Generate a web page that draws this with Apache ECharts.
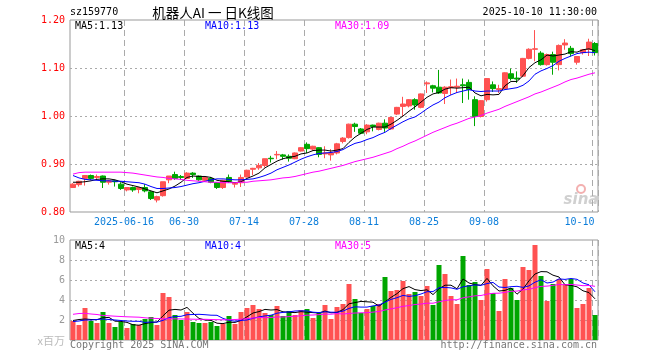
<!DOCTYPE html>
<html><head><meta charset="utf-8">
<script src="https://cdn.jsdelivr.net/npm/echarts@6.0.0/dist/echarts.min.js"></script>
<style>html,body{margin:0;padding:0;background:#fff}#c{width:660px;height:360px}</style>
</head><body><div id="c"></div>
<script>
const dates = [
'2025-06-03','2025-06-04','2025-06-05','2025-06-06','2025-06-09','2025-06-10','2025-06-11','2025-06-12','2025-06-13','2025-06-16',
'2025-06-17','2025-06-18','2025-06-19','2025-06-20','2025-06-23','2025-06-24','2025-06-25','2025-06-26','2025-06-27','2025-06-30',
'2025-07-01','2025-07-02','2025-07-03','2025-07-04','2025-07-07','2025-07-08','2025-07-09','2025-07-10','2025-07-11','2025-07-14',
'2025-07-15','2025-07-16','2025-07-17','2025-07-18','2025-07-21','2025-07-22','2025-07-23','2025-07-24','2025-07-25','2025-07-28',
'2025-07-29','2025-07-30','2025-07-31','2025-08-01','2025-08-04','2025-08-05','2025-08-06','2025-08-07','2025-08-08','2025-08-11',
'2025-08-12','2025-08-13','2025-08-14','2025-08-15','2025-08-18','2025-08-19','2025-08-20','2025-08-21','2025-08-22','2025-08-25',
'2025-08-26','2025-08-27','2025-08-28','2025-08-29','2025-09-01','2025-09-02','2025-09-03','2025-09-04','2025-09-05','2025-09-08',
'2025-09-09','2025-09-10','2025-09-11','2025-09-12','2025-09-15','2025-09-16','2025-09-17','2025-09-18','2025-09-19','2025-09-22',
'2025-09-23','2025-09-24','2025-09-25','2025-09-26','2025-09-29','2025-09-30','2025-10-09','2025-10-10'];

const openP = [
0.851,0.857,0.870,0.876,0.872,0.875,0.862,0.865,0.858,0.846,
0.851,0.847,0.851,0.842,0.825,0.834,0.867,0.878,0.874,0.870,
0.881,0.875,0.866,0.870,0.861,0.851,0.872,0.858,0.861,0.873,
0.889,0.892,0.897,0.912,0.919,0.919,0.916,0.911,0.927,0.941,
0.931,0.934,0.921,0.919,0.923,0.947,0.955,0.983,0.973,0.967,
0.981,0.972,0.985,0.973,1.004,1.020,1.021,1.034,1.018,1.067,
1.063,1.060,1.047,1.059,1.060,1.065,1.070,1.034,0.999,1.034,
1.065,1.055,1.057,1.088,1.079,1.083,1.120,1.139,1.131,1.107,
1.128,1.107,1.148,1.141,1.112,1.132,1.139,1.151];
const closeP = [
0.858,0.864,0.876,0.870,0.874,0.862,0.865,0.863,0.849,0.851,
0.846,0.851,0.844,0.828,0.832,0.863,0.875,0.870,0.872,0.881,
0.878,0.867,0.872,0.862,0.851,0.866,0.864,0.860,0.872,0.887,
0.891,0.897,0.911,0.911,0.920,0.916,0.912,0.923,0.934,0.932,
0.937,0.920,0.923,0.923,0.942,0.954,0.983,0.978,0.964,0.981,
0.978,0.985,0.975,0.997,1.018,1.025,1.034,1.023,1.046,1.069,
1.058,1.048,1.060,1.061,1.062,1.063,1.055,0.999,1.032,1.078,
1.057,1.057,1.090,1.078,1.077,1.120,1.139,1.140,1.107,1.128,
1.112,1.147,1.152,1.130,1.124,1.138,1.154,1.132];
const lowP = [
0.850,0.853,0.855,0.867,0.867,0.850,0.857,0.853,0.846,0.843,
0.842,0.839,0.841,0.825,0.820,0.832,0.860,0.867,0.867,0.870,
0.871,0.865,0.864,0.860,0.848,0.848,0.861,0.851,0.852,0.872,
0.877,0.888,0.893,0.903,0.910,0.909,0.905,0.910,0.926,0.923,
0.928,0.914,0.912,0.907,0.920,0.943,0.953,0.967,0.962,0.962,
0.968,0.970,0.967,0.971,1.002,1.000,1.018,1.013,1.016,1.048,
1.049,1.046,1.025,1.044,1.048,1.027,1.034,0.979,0.997,1.030,
1.050,1.048,1.055,1.074,1.069,1.081,1.118,1.114,1.105,1.105,
1.086,1.095,1.138,1.124,1.107,1.128,1.125,1.126];
const highP = [
0.860,0.865,0.877,0.878,0.878,0.876,0.867,0.867,0.862,0.851,
0.853,0.851,0.858,0.844,0.834,0.863,0.875,0.884,0.877,0.883,
0.883,0.876,0.873,0.873,0.862,0.867,0.878,0.862,0.878,0.888,
0.892,0.902,0.911,0.917,0.927,0.921,0.920,0.924,0.935,0.945,
0.938,0.935,0.937,0.931,0.944,0.956,0.984,0.986,0.975,0.983,
0.982,0.986,0.993,0.998,1.019,1.040,1.035,1.037,1.047,1.072,
1.065,1.096,1.062,1.076,1.078,1.078,1.076,1.041,1.033,1.079,
1.072,1.065,1.091,1.099,1.093,1.121,1.141,1.179,1.135,1.130,
1.134,1.149,1.160,1.146,1.125,1.139,1.161,1.154];
const volume = [
1.9,1.5,3.2,1.9,1.7,2.8,1.7,1.3,1.8,1.2,
1.6,1.5,2.1,2.3,1.5,4.7,4.3,2.5,2.0,2.8,
1.8,1.7,1.7,1.8,1.4,1.6,2.4,1.6,2.8,3.2,
3.5,3.1,2.7,2.5,3.4,2.4,2.9,2.5,3.0,3.1,
2.2,2.7,3.5,2.1,3.3,3.6,5.6,4.1,2.7,3.1,
3.4,3.6,6.3,4.9,5.0,5.9,4.6,4.8,4.4,5.4,
3.5,7.5,6.6,4.4,3.6,8.4,5.5,5.8,4.0,7.1,
4.7,2.9,6.1,5.2,4.0,7.3,7.0,9.5,6.4,3.9,
5.6,6.1,5.6,6.1,3.2,3.6,5.2,2.5];

const ma5 = [
0.862,0.862,0.863,0.865,0.868,0.869,0.869,0.867,0.863,0.858,
0.855,0.852,0.848,0.844,0.840,0.844,0.848,0.854,0.862,0.872,
0.875,0.874,0.874,0.872,0.866,0.864,0.863,0.861,0.863,0.870,
0.875,0.881,0.892,0.899,0.906,0.911,0.914,0.916,0.921,0.923,
0.928,0.929,0.929,0.927,0.929,0.932,0.945,0.956,0.964,0.972,
0.977,0.977,0.977,0.983,0.991,1.000,1.010,1.019,1.029,1.039,
1.046,1.049,1.056,1.059,1.058,1.059,1.060,1.048,1.042,1.045,
1.044,1.045,1.063,1.072,1.072,1.084,1.101,1.111,1.117,1.127,
1.125,1.127,1.129,1.134,1.133,1.138,1.140,1.136];
const ma10 = [
0.876,0.871,0.868,0.867,0.866,0.865,0.865,0.864,0.864,0.863,
0.862,0.861,0.858,0.853,0.849,0.849,0.850,0.851,0.853,0.856,
0.859,0.861,0.864,0.867,0.869,0.869,0.868,0.867,0.867,0.868,
0.869,0.872,0.876,0.881,0.888,0.893,0.898,0.904,0.910,0.915,
0.919,0.922,0.923,0.924,0.926,0.930,0.937,0.943,0.946,0.951,
0.955,0.961,0.966,0.974,0.981,0.988,0.994,0.998,1.006,1.015,
1.023,1.029,1.038,1.044,1.049,1.052,1.055,1.052,1.051,1.052,
1.052,1.052,1.055,1.057,1.059,1.064,1.073,1.087,1.094,1.099,
1.105,1.114,1.120,1.125,1.130,1.132,1.133,1.132];
const ma30 = [
0.879,0.882,0.883,0.883,0.883,0.883,0.883,0.883,0.883,0.882,
0.881,0.879,0.877,0.875,0.873,0.872,0.870,0.869,0.868,0.866,
0.865,0.864,0.863,0.862,0.862,0.861,0.861,0.861,0.862,0.862,
0.864,0.865,0.866,0.867,0.869,0.871,0.872,0.874,0.877,0.880,
0.883,0.885,0.888,0.891,0.894,0.897,0.901,0.905,0.908,0.911,
0.914,0.918,0.922,0.926,0.932,0.937,0.943,0.948,0.954,0.960,
0.966,0.971,0.976,0.981,0.985,0.990,0.995,0.998,1.001,1.006,
1.010,1.014,1.020,1.025,1.030,1.035,1.040,1.046,1.050,1.055,
1.060,1.065,1.071,1.076,1.079,1.083,1.087,1.090];
const vma5 = [
1.95,2.05,2.10,2.05,2.04,2.22,2.26,1.88,1.86,1.76,
1.52,1.48,1.64,1.74,1.80,2.42,2.98,3.06,3.00,3.26,
2.68,2.16,2.00,1.96,1.68,1.64,1.78,1.76,1.96,2.32,
2.70,2.84,3.06,3.00,3.04,2.82,2.78,2.74,2.84,2.78,
2.74,2.70,2.90,2.72,2.76,3.04,3.62,3.74,3.86,3.82,
3.78,3.38,3.82,4.26,4.64,5.14,5.34,5.04,4.94,5.02,
4.54,5.12,5.48,5.48,5.12,6.10,5.70,5.54,5.46,6.16,
5.42,4.90,4.96,5.20,4.58,5.10,5.92,6.60,6.84,6.82,
6.48,6.30,5.52,5.46,5.32,4.92,4.74,4.12];
const vma10 = [
1.85,1.90,2.00,2.00,2.05,2.10,2.05,2.00,1.95,1.90,
1.87,1.87,1.76,1.80,1.78,1.97,2.23,2.35,2.37,2.53,
2.55,2.57,2.53,2.48,2.47,2.16,1.97,1.88,1.96,2.00,
2.17,2.31,2.41,2.48,2.68,2.76,2.81,2.90,2.92,2.91,
2.78,2.74,2.82,2.78,2.77,2.89,3.16,3.32,3.29,3.29,
3.41,3.50,3.78,4.06,4.23,4.46,4.36,4.43,4.60,4.83,
4.84,5.23,5.26,5.21,5.07,5.32,5.41,5.51,5.47,5.64,
5.76,5.30,5.25,5.33,5.37,5.26,5.41,5.78,6.02,5.70,
5.79,6.11,6.06,6.15,6.07,5.70,5.52,4.82];
const vma30 = [
2.57,2.65,2.67,2.60,2.55,2.45,2.42,2.38,2.35,2.32,
2.30,2.28,2.22,2.18,2.15,2.12,2.12,2.12,2.10,2.10,
2.08,2.07,2.07,2.05,2.03,2.02,2.02,2.05,2.08,2.14,
2.20,2.25,2.23,2.25,2.31,2.30,2.34,2.38,2.42,2.48,
2.50,2.54,2.59,2.58,2.64,2.60,2.65,2.70,2.72,2.73,
2.79,2.85,3.00,3.11,3.23,3.37,3.44,3.55,3.60,3.68,
3.68,3.82,3.95,4.02,4.02,4.22,4.31,4.42,4.45,4.59,
4.67,4.68,4.76,4.87,4.89,5.01,5.06,5.24,5.36,5.39,
5.46,5.55,5.52,5.56,5.50,5.43,5.45,5.37];

const tickDates = ['2025-06-16','2025-06-30','2025-07-14','2025-07-28','2025-08-11','2025-08-25','2025-09-08','2025-10-10'];

const UP = '#ff5252', DOWN = '#00a600';
const MONO = '"DejaVu Sans Mono", monospace';
const CJK = '"Noto Sans CJK SC", sans-serif';

const candleData = dates.map((d, i) => [openP[i], closeP[i], lowP[i], highP[i]]);
const volData = volume.map((v, i) => ({ value: v, itemStyle: { color: closeP[i] >= openP[i] ? UP : DOWN } }));
const isTick = (idx, val) => tickDates.indexOf(val) >= 0;
const trunc = (v, d) => (Math.floor(v * Math.pow(10, d) + 1e-9) / Math.pow(10, d)).toFixed(d);
const last = a => a[a.length - 1];

const dashed = { color: '#aaaaaa', width: 1, type: [6, 4] };

function txt(x, y, text, fill, font, align) {
  return { type: 'text', x: x, y: y, silent: true,
    style: { text: text, fill: fill, font: font, align: align || 'left', verticalAlign: 'middle',
             textAlign: align || 'left', textVerticalAlign: 'middle' } };
}

const chart = echarts.init(document.getElementById('c'), null, { renderer: 'canvas' });
chart.setOption({
  animation: false,
  backgroundColor: '#ffffff',
  grid: [
    { left: 70, top: 20, width: 528, height: 192, show: true, borderColor: '#999999', borderWidth: 1, backgroundColor: 'transparent' },
    { left: 70, top: 240, width: 528, height: 100, show: true, borderColor: '#999999', borderWidth: 1, backgroundColor: 'transparent' }
  ],
  xAxis: [
    { type: 'category', gridIndex: 0, data: dates, boundaryGap: true,
      axisLine: { show: false }, axisTick: { show: false },
      axisLabel: { interval: isTick, margin: 5, color: '#0b7dda', fontFamily: MONO, fontSize: 10,
        formatter: function (v) {
          const t = v === tickDates[0] ? v : v.slice(5);
          return v === last(tickDates) ? '{b|' + t + '}' : '{a|' + t + '}';
        },
        rich: { a: { padding: [0, 6, 0, 0], color: '#0b7dda', fontFamily: MONO, fontSize: 10 },
                b: { padding: [0, 31, 0, 0], color: '#0b7dda', fontFamily: MONO, fontSize: 10 } } },
      splitLine: { show: true, interval: isTick, lineStyle: dashed } },
    { type: 'category', gridIndex: 1, data: dates, boundaryGap: true,
      axisLine: { show: false }, axisTick: { show: false }, axisLabel: { show: false },
      splitLine: { show: true, interval: isTick, lineStyle: dashed } }
  ],
  yAxis: [
    { type: 'value', gridIndex: 0, min: 0.8, max: 1.2, interval: 0.1, scale: false,
      axisLine: { show: false }, axisTick: { show: false },
      axisLabel: { color: '#ff0000', fontFamily: MONO, fontSize: 10, margin: 5, formatter: v => v.toFixed(2) },
      splitLine: { show: true, showMinLine: false, showMaxLine: false, lineStyle: { color: '#aaaaaa', width: 1, type: [2, 3] } } },
    { type: 'value', gridIndex: 1, min: 0, max: 10, interval: 2,
      axisLine: { show: false }, axisTick: { show: false },
      axisLabel: { color: '#999999', fontFamily: MONO, fontSize: 10, margin: 5, formatter: v => v === 0 ? '' : String(v) },
      splitLine: { show: true, showMinLine: false, showMaxLine: false, lineStyle: { color: '#aaaaaa', width: 1, type: [2, 3] } } }
  ],
  series: [
    { type: 'candlestick', xAxisIndex: 0, yAxisIndex: 0, data: candleData, barWidth: 5, silent: true,
      itemStyle: { color: UP, color0: DOWN, borderColor: UP, borderColor0: DOWN, borderWidth: 1 } },
    { type: 'line', xAxisIndex: 0, yAxisIndex: 0, data: ma5, symbol: 'none', silent: true, lineStyle: { color: '#000000', width: 1 } },
    { type: 'line', xAxisIndex: 0, yAxisIndex: 0, data: ma10, symbol: 'none', silent: true, lineStyle: { color: '#0000ff', width: 1 } },
    { type: 'line', xAxisIndex: 0, yAxisIndex: 0, data: ma30, symbol: 'none', silent: true, lineStyle: { color: '#ff00ff', width: 1 } },
    { type: 'bar', xAxisIndex: 1, yAxisIndex: 1, data: volData, barWidth: 5, silent: true },
    { type: 'line', xAxisIndex: 1, yAxisIndex: 1, data: vma5, symbol: 'none', silent: true, lineStyle: { color: '#000000', width: 1 } },
    { type: 'line', xAxisIndex: 1, yAxisIndex: 1, data: vma10, symbol: 'none', silent: true, lineStyle: { color: '#0000ff', width: 1 } },
    { type: 'line', xAxisIndex: 1, yAxisIndex: 1, data: vma30, symbol: 'none', silent: true, lineStyle: { color: '#ff00ff', width: 1 } }
  ],
  graphic: [
    txt(70, 12.5, 'sz159770', '#000000', '10px ' + MONO),
    txt(213, 12.5, '机器人AI 一 日K线图', '#000000', '13.5px ' + CJK, 'center'),
    txt(597, 12.5, '2025-10-10 11:30:00', '#000000', '10px ' + MONO, 'right'),
    txt(75, 26.5, 'MA5:' + trunc(last(ma5), 2), '#000000', '10px ' + MONO),
    txt(205, 26.5, 'MA10:' + trunc(last(ma10), 2), '#0000ff', '10px ' + MONO),
    txt(335, 26.5, 'MA30:' + trunc(last(ma30), 2), '#ff00ff', '10px ' + MONO),
    txt(75, 246.5, 'MA5:' + trunc(last(vma5), 0), '#000000', '10px ' + MONO),
    txt(205, 246.5, 'MA10:' + trunc(last(vma10), 0), '#0000ff', '10px ' + MONO),
    txt(335, 246.5, 'MA30:' + trunc(last(vma30), 0), '#ff00ff', '10px ' + MONO),
    txt(65, 341, 'x百万', '#bbbbbb', '11px ' + CJK, 'right'),
    txt(70, 345.5, 'Copyright 2025 SINA.COM', '#777777', '10px ' + MONO),
    txt(597, 345.5, 'http://finance.sina.com.cn', '#777777', '10px ' + MONO, 'right'),
    { type: 'circle', silent: true, shape: { cx: 581, cy: 189, r: 4 }, style: { fill: 'none', stroke: '#f3b0b0', lineWidth: 2 } },
    txt(581, 200, 'sina', '#d0d0d0', 'italic bold 15px "DejaVu Sans", sans-serif', 'center')
  ]
});
</script>
</body></html>
